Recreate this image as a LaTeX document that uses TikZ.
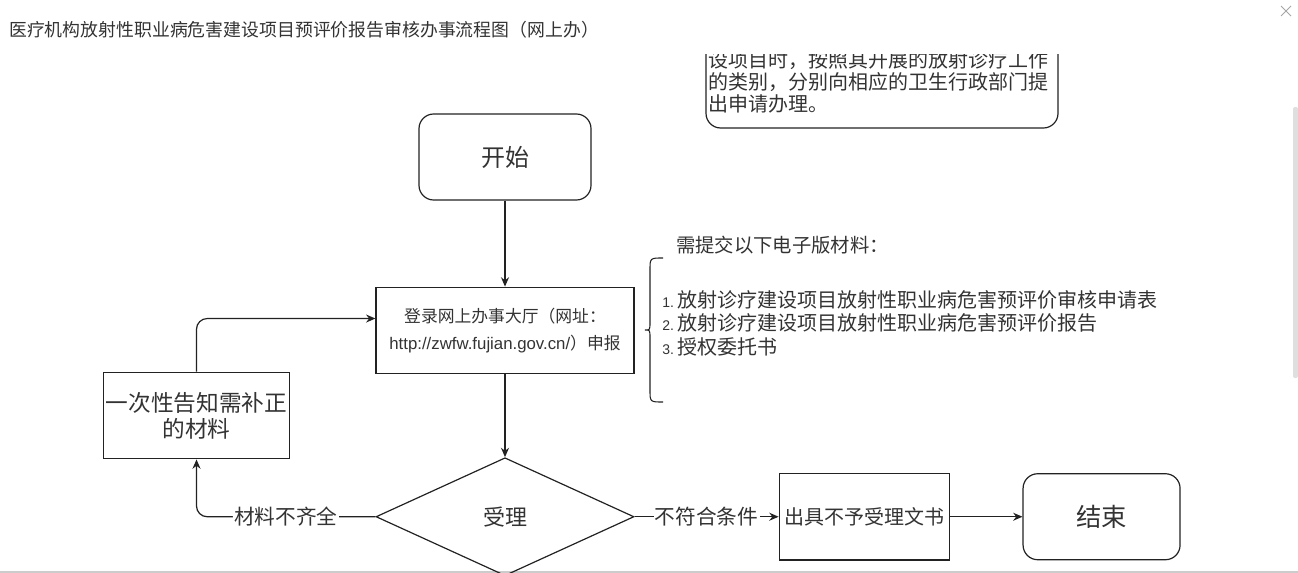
\documentclass[tikz,border=0pt]{standalone}
\usepackage{fontspec}
\setmainfont{Noto Sans CJK SC}
\newfontfamily\latinf{Liberation Sans}
\usepackage{tikz}
\usetikzlibrary{positioning}
\usetikzlibrary{arrows.meta}
\usetikzlibrary{shapes.geometric}
\definecolor{linec}{HTML}{222222}
\definecolor{textc}{HTML}{333333}
\newcommand{\listnum}[1]{{\latinf\fontsize{10.5}{12}\selectfont #1.}\hspace{3pt}}
\tikzset{
  terminal/.style={draw=linec,line width=0.9pt,rounded corners=11pt,minimum height=64.5pt,text=textc,inner sep=0pt},
  process/.style={draw=linec,line width=0.9pt,minimum height=65pt,text=textc,align=center,inner sep=0pt},
  decision/.style={draw=linec,line width=0.9pt,diamond,minimum width=193.5pt,minimum height=88.5pt,inner sep=0pt,text=textc,font=\fontsize{16.5}{18}\selectfont},
  flow/.style={draw=linec,line width=0.9pt,-{Stealth[length=7pt,width=6pt]}},
  edgelabel/.style={fill=white,text=textc,inner sep=1pt,font=\fontsize{15.5}{17}\selectfont}
}
\begin{document}
\begin{tikzpicture}[x=0.75pt,y=-0.75pt]
  \useasboundingbox (0,0) rectangle (1298,573);
  % window frame
  \node[anchor=west,text=textc,inner sep=0pt,font=\fontsize{13.4}{15}\selectfont] (title) at (9,30) {医疗机构放射性职业病危害建设项目预评价报告审核办事流程图（网上办）};
  \draw[gray!70,line width=0.6pt] (1281,6) -- (1291,16) (1281,16) -- (1291,6);
  \fill[gray!25,rounded corners=1.5pt] (1293,107) rectangle (1298,378);
  \draw[gray!40,line width=1.5pt] (0,572) -- (1298,572);

  % note, scrolled off at the top
  \begin{scope}
    \clip (690,55) rectangle (1080,140);
    \draw[linec,line width=0.9pt,rounded corners=11pt] (706,10) rectangle (1058,128);
    \node[align=left,text=textc,inner sep=0pt,font=\fontsize{15}{16.5}\selectfont] (note) at (878,82) {设项目时，按照其开展的放射诊疗工作\\的类别，分别向相应的卫生行政部门提\\出申请办理。};
  \end{scope}

  % flow
  \node[terminal,minimum width=129pt,font=\fontsize{18}{20}\selectfont] (start) at (505,157) {开始};
  \node[process,minimum width=193.5pt,font=\fontsize{12.6}{20}\selectfont,below=64.5pt of start] (login) {登录网上办事大厅（网址：\\{\latinf http://zwfw.fujian.gov.cn/}）申报};
  \node[decision,below=62pt of login] (accept) {受理};
  \node[process,minimum width=140pt,font=\fontsize{17}{19.5}\selectfont] (fix) at (196.5,415.5) {一次性告知需补正\\的材料};
  \node[process,minimum width=128pt,font=\fontsize{15}{17}\selectfont,right=108pt of accept] (reject) {出具不予受理文书};
  \node[terminal,minimum width=117.75pt,font=\fontsize{19}{21}\selectfont,right=54pt of reject] (finish) {结束};

  \draw[flow] (start) -- (login);
  \draw[flow] (login) -- (accept);
  \draw[flow,rounded corners=8pt] (accept.west) -| node[edgelabel,pos=0.25] {材料不齐全} (fix.south);
  \draw[flow,rounded corners=8pt] (fix.north) |- ([yshift=9pt]login.west);
  \draw[flow] (accept.east) -- node[edgelabel] {不符合条件} (reject.west);
  \draw[flow] (reject) -- (finish);

  % materials
  \node[anchor=west,text=textc,inner sep=0pt,font=\fontsize{14.5}{16}\selectfont] (needs) at (676,245) {需提交以下电子版材料：};
  \draw[linec,line width=0.8pt] (663,258) .. controls (650,258) .. (650,270) -- (650,322)
    .. controls (650,330) .. (645,330) .. controls (650,330) .. (650,338) -- (650,390)
    .. controls (650,402) .. (663,402);
  \node[anchor=west,align=left,text=textc,inner sep=0pt,font=\fontsize{15}{17.6}\selectfont] (list) at (662,323) {\listnum{1}放射诊疗建设项目放射性职业病危害预评价审核申请表\\\listnum{2}放射诊疗建设项目放射性职业病危害预评价报告\\\listnum{3}授权委托书};
\end{tikzpicture}
\end{document}
